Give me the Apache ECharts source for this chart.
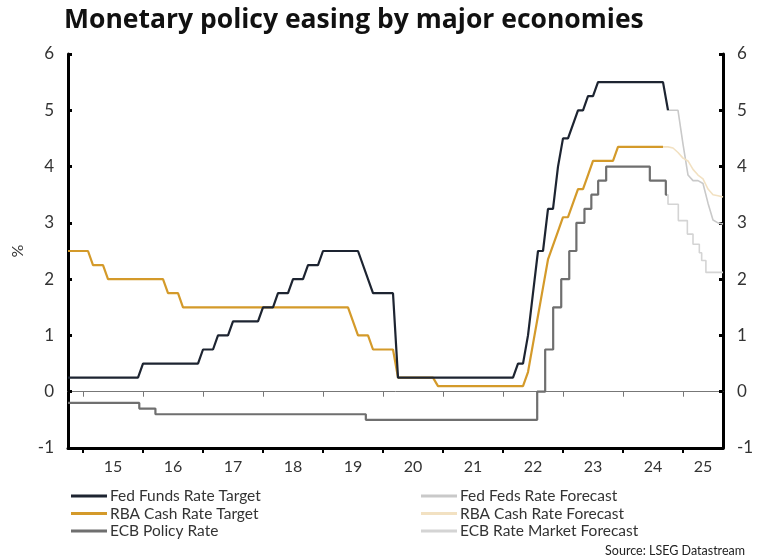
<!DOCTYPE html>
<html>
<head>
<meta charset="utf-8">
<script src="https://cdn.jsdelivr.net/npm/echarts@6/dist/echarts.min.js"></script>
<style>html,body{margin:0;padding:0;background:#fff}#c{width:759px;height:560px}</style>
</head>
<body>
<div id="c"></div>
<script>
// ---------- DATA ----------
const years = [2015, 2016, 2017, 2018, 2019, 2020, 2021, 2022, 2023, 2024, 2025];
const yearLabels = ['15', '16', '17', '18', '19', '20', '21', '22', '23', '24', '25'];
const axisStart = '2014-10';
const axisEnd = '2025-09';

const fedDates = ['2014-10','2015-12','2016-01','2016-12','2017-01','2017-03','2017-04','2017-06','2017-07','2017-12','2018-01','2018-03','2018-04','2018-06','2018-07','2018-09','2018-10','2018-12','2019-01','2019-08','2019-11','2020-03','2020-04','2022-03','2022-04','2022-05','2022-06','2022-07','2022-08','2022-09','2022-10','2022-11','2022-12','2023-01','2023-02','2023-03','2023-04','2023-05','2023-06','2023-07','2023-08','2024-09','2024-10'];
const fedValues = [0.25,0.25,0.5,0.5,0.75,0.75,1.0,1.0,1.25,1.25,1.5,1.5,1.75,1.75,2.0,2.0,2.25,2.25,2.5,2.5,1.75,1.75,0.25,0.25,0.5,0.5,1.0,1.75,2.5,2.5,3.25,3.25,4.0,4.5,4.5,4.75,5.0,5.0,5.25,5.25,5.5,5.5,5.0];

const rbaDates = ['2014-10','2015-02','2015-03','2015-05','2015-06','2016-05','2016-06','2016-08','2016-09','2019-06','2019-08','2019-10','2019-11','2020-03','2020-04','2020-11','2020-12','2022-05','2022-06','2022-07','2022-08','2022-09','2022-10','2022-11','2022-12','2023-01','2023-02','2023-03','2023-04','2023-05','2023-06','2023-07','2023-11','2023-12','2024-09'];
const rbaValues = [2.5,2.5,2.25,2.25,2.0,2.0,1.75,1.75,1.5,1.5,1.0,1.0,0.75,0.75,0.25,0.25,0.1,0.1,0.35,0.85,1.35,1.85,2.35,2.6,2.85,3.1,3.1,3.35,3.6,3.6,3.85,4.1,4.1,4.35,4.35];

// ECB: dates at which each level starts (stepped series)
const ecbDates = ['2014-10-01','2015-12-09','2016-03-16','2019-09-18','2022-07-27','2022-09-14','2022-11-02','2022-12-21','2023-02-08','2023-03-22','2023-05-10','2023-06-21','2023-08-02','2023-09-20','2024-06-12','2024-09-18','2024-09-25'];
const ecbValues = [-0.2,-0.3,-0.4,-0.5,0.0,0.75,1.5,2.0,2.5,3.0,3.25,3.5,3.75,4.0,3.75,3.5,3.5];

const fedFcDates = ['2024-10','2024-11','2024-12','2025-01','2025-02','2025-03','2025-04','2025-05','2025-06','2025-07','2025-08','2025-09'];
const fedFcValues = [5.0,5.0,5.0,4.4,3.85,3.75,3.75,3.7,3.35,3.05,3.0,2.98];

const rbaFcDates = ['2024-09','2024-10','2024-11','2024-12','2025-01','2025-02','2025-03','2025-04','2025-05','2025-06','2025-07','2025-08','2025-09'];
const rbaFcValues = [4.35,4.35,4.33,4.25,4.15,4.1,3.95,3.85,3.78,3.6,3.5,3.48,3.46];

const ecbFcDates = ['2024-09-18','2024-10-01','2024-12-03','2025-01-28','2025-03-01','2025-04-09','2025-04-23','2025-05-19','2025-09-01'];
const ecbFcValues = [3.5,3.33,3.04,2.8,2.62,2.47,2.33,2.12,2.12];

// ---------- BUILD ----------
function toYear(s) {
  const p = s.split('-').map(Number);
  const y = p[0], m = p[1], d = p[2] || 1;
  const dim = new Date(y, m, 0).getDate();
  return y + (m - 1) / 12 + (d - 1) / (dim * 12);
}
function pairs(dates, values) { return dates.map((d, i) => [toYear(d), values[i]]); }

const xMin = toYear(axisStart), xMax = toYear(axisEnd);
const labelPos = years.map(y => (Math.max(y, xMin) + Math.min(y + 1, xMax)) / 2);

const FONT = 'Lato';
const chart = echarts.init(document.getElementById('c'), null, {renderer: 'canvas'});

const baseX = {
  type: 'value', min: xMin, max: xMax, gridIndex: 0, position: 'bottom',
  splitLine: {show: false}
};

const option = {
  animation: false,
  backgroundColor: '#ffffff',
  title: {
    text: 'Monetary policy easing by major economies',
    left: 59, top: 2,
    textStyle: {fontFamily: 'Open Sans', fontWeight: 'bold', fontSize: 26.5, color: '#111'}
  },
  grid: {left: 68, right: 36, top: 54, bottom: 112, containLabel: false},
  xAxis: [
    Object.assign({}, baseX, {
      axisLine: {show: true, onZero: false, lineStyle: {color: '#000', width: 3}},
      axisTick: {show: true, customValues: years, length: 5, lineStyle: {color: '#000', width: 2}},
      axisLabel: {
        show: true, customValues: labelPos, margin: 11,
        fontFamily: FONT, fontSize: 16, color: '#333',
        formatter: v => yearLabels[Math.floor(v) - years[0]]
      }
    }),
    Object.assign({}, baseX, {
      axisLine: {show: true, onZero: true, lineStyle: {color: '#777', width: 1}},
      axisTick: {show: true, customValues: years, length: 5, lineStyle: {color: '#777', width: 1}},
      axisLabel: {show: false}
    })
  ],
  yAxis: [0, 1].map(i => ({
    type: 'value', min: -1, max: 6, interval: 1,
    position: i === 0 ? 'left' : 'right',
    name: i === 0 ? '%' : '',
    nameLocation: 'middle', nameGap: 42, nameRotate: 90,
    nameTextStyle: {fontFamily: FONT, fontSize: 16, color: '#333'},
    axisLine: {show: true, onZero: false, lineStyle: {color: '#000', width: 3}},
    axisTick: {show: true, inside: true, length: 4, lineStyle: {color: '#000', width: 3}},
    axisLabel: {fontFamily: FONT, fontSize: 17, color: '#333', margin: 14},
    splitLine: {show: false}
  })),
  legend: [
    {
      data: ['Fed Funds Rate Target', 'RBA Cash Rate Target', 'ECB Policy Rate'],
      orient: 'vertical', left: 66, top: 483, itemGap: 1.5,
      itemWidth: 36, itemHeight: 3, icon: 'rect',
      textStyle: {fontFamily: FONT, fontSize: 15.5, color: '#333', padding: [0, 0, 0, -2]}
    },
    {
      data: ['Fed Feds Rate Forecast', 'RBA Cash Rate Forecast', 'ECB Rate Market Forecast'],
      orient: 'vertical', left: 416, top: 483, itemGap: 1.5,
      itemWidth: 36, itemHeight: 3, icon: 'rect',
      textStyle: {fontFamily: FONT, fontSize: 15.5, color: '#333', padding: [0, 0, 0, -2]}
    }
  ],
  graphic: [{
    type: 'text', right: 14, top: 544,
    style: {text: 'Source: LSEG Datastream', fontFamily: FONT, fontSize: 12.5, fill: '#222'}
  }],
  series: [
    {name: 'Fed Feds Rate Forecast', type: 'line', data: pairs(fedFcDates, fedFcValues), symbol: 'none',
     lineStyle: {color: '#c9c9c9', width: 1.6}, itemStyle: {color: '#c9c9c9'}, z: 2},
    {name: 'RBA Cash Rate Forecast', type: 'line', data: pairs(rbaFcDates, rbaFcValues), symbol: 'none',
     lineStyle: {color: '#f2e1c2', width: 1.6}, itemStyle: {color: '#f2e1c2'}, z: 2},
    {name: 'ECB Rate Market Forecast', type: 'line', step: 'end', data: pairs(ecbFcDates, ecbFcValues), symbol: 'none',
     lineStyle: {color: '#d4d4d4', width: 1.6}, itemStyle: {color: '#d4d4d4'}, z: 2},
    {name: 'ECB Policy Rate', type: 'line', step: 'end', data: pairs(ecbDates, ecbValues), symbol: 'none',
     lineStyle: {color: '#6f6f6f', width: 2.2}, itemStyle: {color: '#6f6f6f'}, z: 3},
    {name: 'RBA Cash Rate Target', type: 'line', data: pairs(rbaDates, rbaValues), symbol: 'none',
     lineStyle: {color: '#d49a2a', width: 2.2}, itemStyle: {color: '#d49a2a'}, z: 4},
    {name: 'Fed Funds Rate Target', type: 'line', data: pairs(fedDates, fedValues), symbol: 'none',
     lineStyle: {color: '#1d2431', width: 2.2}, itemStyle: {color: '#1d2431'}, z: 5}
  ]
};
chart.setOption(option);
</script>
</body>
</html>
